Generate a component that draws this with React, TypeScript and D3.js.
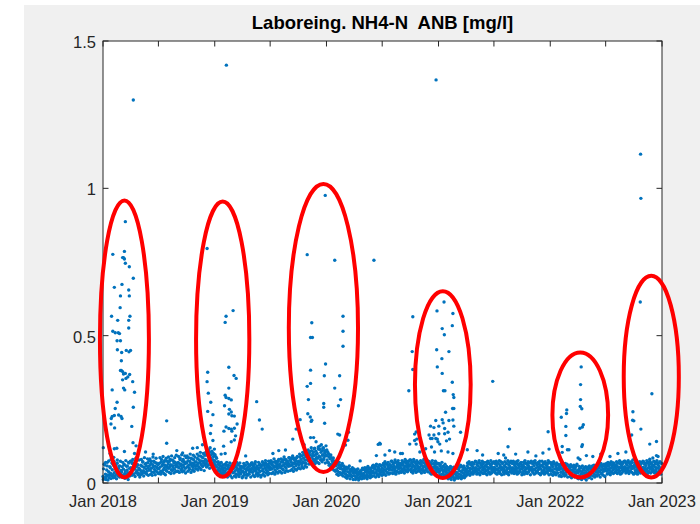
import React from "react";
import * as d3 from "d3";

// ---------- DATA ----------
const title = "Laboreing. NH4-N  ANB [mg/l]";
const yTicks = [0, 0.5, 1, 1.5];
const yTickLabels = ["0", "0.5", "1", "1.5"];
const xDomain = ["2018-01-01", "2023-01-01"];

// Baseline measurements (even days, ~every 2 days), values in µg/l (mg/l × 1000), one array per year
const base2018 = [
  22,48,15,61,30,12,44,70,27,38,18,55,33,80,25,
  45,28,60,35,19,52,41,30,67,24,49,36,58,31,43,
  38,55,26,47,63,32,41,20,57,44,35,70,29,50,37,
  52,39,66,45,30,58,47,72,36,55,42,61,33,50,46,
  44,60,38,57,71,42,53,35,64,48,58,40,69,52,45,
  59,43,66,50,37,62,55,74,46,57,41,68,53,49,63,
  48,67,54,40,72,58,63,45,70,52,60,44,76,57,51,
  64,50,73,56,62,45,78,59,53,68,47,71,60,55,66,
  57,70,52,66,80,58,63,49,74,61,55,72,65,50,68,
  69,55,76,60,51,73,64,84,58,67,53,79,62,70,57,
  72,60,83,66,55,78,70,92,63,75,58,86,68,74,61,
  80,66,95,74,62,88,77,104,70,85,68,99,79,90,72,
];
const base2019 = [
  76,60,88,54,70,45,63,52,40,58,47,35,55,43,50,
  38,52,42,60,33,47,55,36,50,29,44,58,40,48,35,
  50,37,58,42,31,53,46,62,39,48,34,56,43,51,38,
  41,55,35,49,60,38,46,30,53,44,57,37,48,42,63,
  49,36,58,43,52,65,40,47,55,34,50,44,61,39,53,
  56,42,62,48,38,59,51,67,45,54,40,63,50,57,46,
  52,66,47,60,71,53,58,44,69,55,63,49,74,57,61,
  65,52,72,58,48,70,61,79,55,66,51,75,60,68,57,
  63,77,58,70,84,62,68,54,80,66,73,59,86,65,71,
  74,62,88,70,80,65,93,72,84,68,98,77,66,90,79,
  88,75,102,84,95,72,110,90,82,105,93,118,80,97,87,
  100,84,115,92,125,88,104,79,110,95,120,86,102,93,108,
];
const base2020 = [
  92,78,105,70,88,64,82,95,60,75,68,85,58,72,62,
  58,45,66,40,52,61,36,49,55,33,47,58,38,44,51,
  42,30,48,26,38,52,24,35,44,28,40,22,46,33,37,
  25,38,20,33,44,27,18,36,30,41,23,34,26,45,29,
  32,45,24,38,50,29,41,22,36,47,31,39,26,53,34,
  40,52,33,47,58,36,44,30,55,41,49,35,60,43,38,
  50,38,60,45,55,42,65,48,36,58,52,44,62,47,55,
  55,43,64,50,58,46,70,53,40,62,56,48,66,51,59,
  52,66,47,60,71,50,58,44,68,55,63,49,74,57,61,
  58,46,68,53,62,43,72,56,50,65,48,60,55,70,52,
  54,66,45,60,70,50,57,42,67,55,62,48,73,56,60,
  50,62,43,57,66,46,54,40,64,52,58,45,69,53,48,
];
const base2021 = [
  48,36,58,42,52,30,46,55,38,44,28,50,40,35,47,
  32,45,24,38,50,20,35,42,27,40,18,46,30,37,25,
  35,22,47,30,41,55,28,38,19,44,33,50,26,40,36,
  45,58,38,52,64,42,49,35,60,47,55,40,66,50,44,
  52,40,62,47,57,44,68,51,38,60,54,45,65,49,56,
  48,60,42,55,66,46,52,37,63,50,57,43,69,51,45,
  53,41,64,48,58,44,67,50,39,61,55,46,70,52,47,
  47,59,40,54,65,45,51,36,62,49,56,42,68,50,44,
  52,40,63,47,56,43,66,50,38,60,54,45,64,48,57,
  49,61,41,55,67,46,52,37,63,50,58,44,70,51,45,
  54,42,65,48,59,44,68,51,39,62,55,46,66,50,58,
  47,60,40,55,64,45,52,36,62,49,57,42,67,51,44,
];
const base2022 = [
  52,40,62,45,56,38,66,48,35,58,50,43,63,47,54,
  46,58,36,50,61,40,47,32,55,44,52,38,64,45,41,
  40,52,30,45,57,35,43,26,50,38,48,33,58,42,37,
  34,46,24,40,52,30,38,18,45,33,43,27,55,36,30,
  45,33,55,38,50,28,47,40,58,35,44,30,52,42,37,
  48,36,58,42,52,38,62,45,33,55,47,40,60,44,50,
  52,40,63,47,57,43,66,50,38,60,54,45,68,49,56,
  50,62,43,56,68,47,54,40,65,52,59,45,71,53,48,
  55,43,66,50,60,46,70,53,41,63,57,48,69,52,58,
  50,62,42,56,67,46,53,39,65,51,59,44,70,52,47,
  54,42,64,49,59,45,68,51,38,62,55,47,66,50,57,
  48,60,41,55,65,46,52,37,63,50,58,43,69,51,45,
];
// Second daily sample set (odd days), µg/l
const base2018b = [
  12,64,18,70,22,58,10,75,26,52,15,68,
  66,18,72,24,60,14,78,28,56,20,74,30,
  20,70,26,62,16,76,30,58,12,68,24,74,
  74,26,80,30,68,22,84,34,62,28,78,20,
  28,80,32,72,24,86,36,66,30,82,26,76,
  82,30,74,26,88,36,70,28,84,38,64,32,
  34,86,30,80,38,90,32,76,28,84,40,72,
  88,36,80,32,92,42,76,34,86,38,94,40,
  40,90,36,84,44,96,38,80,42,92,34,86,
  92,40,86,46,98,36,82,44,94,40,88,48,
  48,98,44,92,52,104,46,88,56,100,42,94,
  104,54,98,60,112,50,94,62,108,56,100,66,
];
const base2019b = [
  96,58,84,40,72,30,66,28,70,25,62,30,
  22,64,26,70,20,60,30,68,24,58,18,66,
  66,24,58,20,70,28,62,22,68,30,56,18,
  22,66,28,60,18,70,26,64,30,58,20,68,
  68,26,62,22,72,30,58,24,70,28,64,20,
  26,72,30,66,24,76,34,62,28,74,32,68,
  76,32,70,36,82,30,74,38,68,34,80,40,
  38,82,34,78,44,88,36,80,42,74,40,86,
  86,42,80,46,92,40,84,48,78,44,90,50,
  52,98,48,92,56,104,50,96,58,90,54,102,
  112,64,106,70,120,62,100,74,116,66,108,72,
  70,122,66,114,78,130,72,118,80,110,68,126,
];
const base2020b = [
  112,70,100,60,94,52,86,48,78,44,70,40,
  72,30,64,26,70,34,60,28,66,24,58,32,
  20,54,16,50,24,58,14,46,22,52,12,48,
  44,12,40,18,48,10,36,16,42,14,50,20,
  16,52,20,46,14,56,24,50,18,44,22,58,
  60,24,56,20,64,28,52,22,62,30,58,26,
  28,66,32,72,26,64,36,70,30,62,34,74,
  74,32,68,36,78,30,70,38,76,34,66,40,
  36,76,40,70,34,80,42,74,38,68,44,78,
  78,38,72,34,80,42,70,36,76,40,68,44,
  40,76,34,72,42,80,36,70,44,78,38,74,
  72,34,68,30,76,38,66,32,74,36,64,40,
];
const base2021b = [
  66,26,62,22,70,30,58,24,64,20,56,28,
  14,52,18,56,12,48,20,54,10,50,16,58,
  56,16,52,20,60,14,54,22,58,18,50,24,
  28,68,32,72,26,66,34,70,30,64,36,74,
  72,30,68,34,76,28,66,36,74,32,70,38,
  32,70,28,74,36,68,30,76,34,66,38,72,
  70,34,74,30,68,36,76,32,72,28,66,38,
  30,72,36,68,32,76,28,70,38,74,34,66,
  74,32,68,36,72,30,76,34,66,38,70,28,
  34,70,30,76,36,66,32,72,38,68,28,74,
  68,36,72,30,76,34,66,38,70,32,74,28,
  32,74,36,68,30,72,38,66,34,76,28,70,
];
const base2022b = [
  70,30,66,26,72,32,64,28,68,34,62,24,
  26,64,22,68,30,60,24,66,28,62,20,58,
  58,22,62,18,56,26,60,20,54,24,64,16,
  14,56,18,52,12,58,20,50,16,54,10,48,
  52,18,58,22,50,14,56,24,60,20,54,26,
  24,62,28,58,20,66,30,60,26,64,22,56,
  66,30,70,34,64,28,72,36,68,32,62,38,
  36,72,32,68,38,76,30,70,34,66,40,74,
  74,34,70,38,76,32,68,40,72,36,78,30,
  32,70,36,76,30,68,38,72,34,66,40,74,
  72,36,66,40,76,32,70,38,74,34,68,42,
  38,74,34,70,40,76,32,68,36,72,30,66,
];
const baseYears = [2018, 2019, 2020, 2021, 2022];
const baseSeries = [base2018, base2019, base2020, base2021, base2022];
const baseSeriesB = [base2018b, base2019b, base2020b, base2021b, base2022b];

// Scattered readings just above the baseline band [date, mg/l]
const fringe: [string, number][] = [
  ["2018-05-20",0.105],["2018-06-14",0.098],["2018-08-30",0.11],["2018-09-18",0.102],["2018-11-05",0.12],
  ["2018-11-22",0.13],["2019-04-12",0.092],["2019-07-10",0.10],["2019-08-20",0.112],["2019-10-20",0.13],
  ["2019-11-28",0.14],["2020-04-20",0.075],["2020-07-10",0.095],["2020-09-05",0.10],["2020-11-01",0.105],
  ["2021-05-25",0.095],["2021-07-15",0.10],["2021-09-10",0.098],["2021-10-20",0.105],["2021-11-15",0.092],
  ["2022-05-20",0.09],["2022-06-15",0.098],["2022-08-10",0.10],["2022-09-05",0.105],
];

// Elevated readings [date, mg/l]
const spikes2018: [string, number][] = [
  ["2018-01-02",0.12],["2018-01-24",0.10],["2018-01-27",0.20],["2018-01-28",0.219],["2018-01-29",0.566],
  ["2018-01-31",0.316],["2018-01-31",0.226],["2018-02-02",0.776],["2018-02-02",0.515],["2018-02-05",0.087],
  ["2018-02-07",0.664],["2018-02-07",0.229],["2018-02-07",0.116],["2018-02-08",0.187],["2018-02-10",0.51],
  ["2018-02-10",0.253],["2018-02-15",0.118],["2018-02-16",0.483],["2018-02-16",0.274],["2018-02-17",0.452],
  ["2018-02-18",0.552],["2018-02-20",0.51],["2018-02-21",0.231],["2018-02-24",0.507],["2018-02-26",0.595],
  ["2018-02-27",0.635],["2018-02-27",0.483],["2018-02-27",0.382],["2018-03-01",0.226],["2018-03-02",0.415],
  ["2018-03-02",0.382],["2018-03-03",0.443],["2018-03-04",0.674],["2018-03-04",0.219],["2018-03-06",0.765],
  ["2018-03-06",0.378],["2018-03-06",0.35],["2018-03-09",0.765],["2018-03-09",0.37],["2018-03-09",0.322],
  ["2018-03-12",0.786],["2018-03-12",0.76],["2018-03-12",0.107],["2018-03-13",0.316],["2018-03-15",0.887],
  ["2018-03-15",0.746],["2018-03-15",0.372],["2018-03-17",0.355],["2018-03-18",0.45],["2018-03-23",0.36],
  ["2018-03-26",0.655],["2018-03-26",0.552],["2018-03-26",0.526],["2018-03-27",0.445],["2018-03-28",0.734],
  ["2018-03-28",0.635],["2018-03-29",0.368],["2018-03-30",0.566],["2018-04-01",0.45],["2018-04-05",0.192],
  ["2018-04-08",0.344],["2018-04-09",0.137],["2018-04-10",1.30],["2018-04-10",0.695],["2018-04-10",0.257],
  ["2018-04-14",0.308],["2018-04-14",0.10],["2018-04-19",0.126],["2018-07-28",0.211],["2018-07-28",0.135],
];
const spikes2019: [string, number][] = [
  ["2018-10-21",0.118],["2018-12-07",0.796],["2018-12-07",0.344],["2018-12-09",0.376],["2018-12-09",0.243],
  ["2018-12-11",0.305],["2018-12-17",0.12],["2018-12-18",0.168],["2018-12-19",0.274],["2018-12-20",0.195],
  ["2018-12-26",0.232],["2018-12-26",0.144],["2018-12-31",0.115],["2019-01-22",0.098],["2019-01-30",0.125],
  ["2019-01-31",0.176],["2019-02-02",0.262],["2019-02-04",0.545],["2019-02-04",0.298],["2019-02-04",0.10],
  ["2019-02-07",0.566],["2019-02-07",0.29],["2019-02-07",0.19],["2019-02-08",1.418],["2019-02-16",0.393],
  ["2019-02-16",0.322],["2019-02-16",0.287],["2019-02-16",0.234],["2019-02-16",0.185],["2019-02-18",0.25],
  ["2019-02-24",0.282],["2019-02-24",0.241],["2019-02-24",0.183],["2019-02-24",0.14],["2019-02-26",0.228],
  ["2019-02-26",0.176],["2019-03-02",0.585],["2019-03-05",0.365],["2019-03-06",0.227],["2019-03-06",0.186],
  ["2019-03-06",0.146],["2019-03-10",0.16],["2019-03-12",0.355],["2019-03-15",0.2],["2019-05-18",0.276],
  ["2019-05-27",0.214],["2019-06-05",0.183],["2019-07-29",0.11],["2019-09-13",0.149],["2019-09-24",0.183],
];
const spikes2020: [string, number][] = [
  ["2019-10-07",0.215],["2019-10-30",0.775],["2019-10-30",0.328],["2019-11-01",0.235],["2019-11-03",0.283],
  ["2019-11-09",0.224],["2019-11-10",0.494],["2019-11-10",0.383],["2019-11-10",0.338],["2019-11-10",0.154],
  ["2019-11-12",0.209],["2019-11-14",0.544],["2019-11-14",0.213],["2019-11-16",0.494],["2019-11-20",0.154],
  ["2019-12-19",0.095],["2019-12-23",0.27],["2019-12-23",0.257],["2019-12-25",0.364],["2019-12-26",0.203],
  ["2019-12-28",0.976],["2019-12-29",0.404],["2019-12-31",0.095],["2020-01-28",0.756],["2020-01-28",0.322],
  ["2020-02-07",0.166],["2020-02-09",0.262],["2020-02-13",0.364],["2020-02-13",0.163],["2020-02-16",0.283],
  ["2020-02-24",0.566],["2020-02-24",0.515],["2020-02-24",0.464],["2020-03-03",0.129],["2020-03-11",0.145],
  ["2020-03-13",0.172],["2020-06-04",0.756],["2020-06-12",0.093],["2020-06-18",0.131],["2020-06-23",0.135],
];
const spikes2021: [string, number][] = [
  ["2020-06-25",0.132],["2020-07-25",0.11],["2020-08-11",0.105],["2020-08-30",0.10],["2020-09-26",0.313],
  ["2020-09-29",0.132],["2020-10-07",0.446],["2020-10-09",0.564],["2020-10-09",0.385],["2020-10-15",0.144],
  ["2020-10-15",0.166],["2020-10-20",0.173],["2020-10-20",0.132],["2020-10-22",0.149],["2020-11-06",0.127],
  ["2020-11-20",0.116],["2020-12-01",0.163],["2020-12-06",0.193],["2020-12-06",0.151],["2020-12-09",0.122],
  ["2020-12-11",0.151],["2020-12-17",0.188],["2020-12-17",0.163],["2020-12-19",0.105],["2020-12-24",1.368],
  ["2020-12-23",0.212],["2020-12-23",0.151],["2020-12-26",0.452],["2020-12-27",0.584],["2020-12-28",0.394],
  ["2020-12-28",0.149],["2020-12-30",0.14],["2021-01-02",0.193],["2021-01-02",0.167],["2021-01-05",0.132],
  ["2021-01-10",0.109],["2021-01-12",0.422],["2021-01-13",0.524],["2021-01-13",0.372],["2021-01-13",0.215],
  ["2021-01-16",0.204],["2021-01-17",0.313],["2021-01-19",0.614],["2021-01-20",0.503],["2021-01-21",0.185],
  ["2021-01-21",0.167],["2021-01-22",0.313],["2021-01-24",0.24],["2021-01-27",0.143],["2021-02-01",0.172],
  ["2021-02-01",0.105],["2021-02-04",0.446],["2021-02-04",0.212],["2021-02-06",0.149],["2021-02-15",0.534],
  ["2021-02-15",0.342],["2021-02-16",0.253],["2021-02-17",0.575],["2021-02-17",0.214],["2021-02-17",0.10],
  ["2021-02-18",0.30],["2021-02-20",0.29],["2021-02-20",0.253],["2021-02-20",0.193],["2021-03-14",0.172],
  ["2021-04-05",0.113],["2021-05-07",0.11],["2021-06-27",0.345],["2021-08-02",0.095],["2021-08-08",0.085],
  ["2021-08-16",0.123],["2021-08-21",0.183],
];
const spikes2022: [string, number][] = [
  ["2021-12-08",0.102],["2021-12-25",0.174],["2021-12-28",0.115],["2022-02-06",0.223],["2022-02-09",0.124],
  ["2022-02-09",0.104],["2022-02-21",0.192],["2022-02-21",0.161],["2022-02-23",0.236],["2022-02-24",0.248],
  ["2022-02-26",0.113],["2022-03-03",0.113],["2022-04-02",0.085],["2022-04-08",0.186],["2022-04-08",0.08],
  ["2022-04-09",0.26],["2022-04-10",0.334],["2022-04-10",0.283],["2022-04-12",0.394],["2022-04-14",0.252],
  ["2022-04-14",0.124],["2022-04-16",0.19],["2022-04-16",0.13],["2022-04-19",0.198],["2022-04-29",0.093],
  ["2022-07-15",0.09],
];
const spikes2023: [string, number][] = [
  ["2022-09-24",0.163],["2022-09-27",0.213],["2022-09-28",0.242],["2022-10-01",0.211],["2022-10-22",0.614],
  ["2022-10-23",1.116],["2022-10-24",0.966],["2022-10-24",0.183],["2022-11-22",0.132],["2022-11-22",0.081],
  ["2022-11-29",0.303],["2022-12-02",0.085],["2022-12-14",0.141],["2022-12-14",0.093],["2022-12-19",0.09],
];

// Red highlight ellipses: center date, center value, half-width (days), half-height (mg/l)
const ellipseDates = ["2018-03-12", "2019-01-27", "2019-12-22", "2021-01-15", "2022-04-09", "2022-11-27"];
const ellipseValues = [0.489, 0.488, 0.526, 0.334, 0.231, 0.361];
const ellipseHalfDays = [80, 87, 113, 91, 91, 90];
const ellipseHalfValues = [0.47, 0.467, 0.489, 0.317, 0.212, 0.342];

// ---------- CHART ----------
const W = 700, H = 524;
const M = { left: 103, right: 662, top: 41, bottom: 483 };
const parse = d3.utcParse("%Y-%m-%d");
const FONT = "'Liberation Sans', Arial, Helvetica, sans-serif";
const AX = "#262626";
const BLUE = "#0072BD";
const DAY = 86400000;

export default function App() {
  const x = d3.scaleUtc().domain(xDomain.map((s) => parse(s) as Date)).range([M.left, M.right]);
  const y = d3.scaleLinear().domain([0, 1.5]).range([M.bottom, M.top]);

  const points: { d: Date; v: number }[] = [];
  const addSeries = (series: number[][], offsetDays: number) =>
    series.forEach((arr, yi) => {
      const start = Date.UTC(baseYears[yi], 0, 1) + offsetDays * DAY;
      const step = (365 / arr.length) * DAY;
      arr.forEach((v, i) => points.push({ d: new Date(start + i * step), v: v / 1000 }));
    });
  addSeries(baseSeries, 0);
  addSeries(baseSeriesB, 1);
  [fringe, spikes2018, spikes2019, spikes2020, spikes2021, spikes2022, spikes2023].forEach((arr) =>
    arr.forEach(([s, v]) => points.push({ d: parse(s) as Date, v }))
  );

  const xTicks = x.ticks(d3.utcMonth.every(6) as any);
  const fmt = d3.utcFormat("Jan %Y");
  const tickLen = 5.5;

  return (
    <svg width={W} height={H} style={{ position: "absolute", left: 0, top: 0, display: "block" }}>
      <rect x={0} y={0} width={W} height={H} fill="#ffffff" />
      <rect x={24} y={5} width={W - 24} height={H - 5} fill="#f0f0f0" />
      <rect x={M.left} y={M.top} width={M.right - M.left} height={M.bottom - M.top} fill="#ffffff" />
      <text
        x={(M.left + M.right) / 2}
        y={29}
        textAnchor="middle"
        fontFamily={FONT}
        fontWeight="bold"
        fontSize={18.5}
        fill="#000"
        style={{ whiteSpace: "pre" }}
        xmlSpace="preserve"
      >
        {title}
      </text>
      <g>
        {points.map((p, i) => (
          <circle key={i} cx={x(p.d)} cy={y(p.v)} r={1.7} fill={BLUE} />
        ))}
      </g>
      <g stroke={AX} strokeWidth={1} fill="none">
        <rect x={M.left} y={M.top} width={M.right - M.left} height={M.bottom - M.top} />
        {xTicks.map((t, i) => (
          <g key={i}>
            <line x1={x(t)} x2={x(t)} y1={M.bottom} y2={M.bottom - tickLen} />
            <line x1={x(t)} x2={x(t)} y1={M.top} y2={M.top + tickLen} />
          </g>
        ))}
        {yTicks.map((t, i) => (
          <g key={i}>
            <line x1={M.left} x2={M.left + tickLen} y1={y(t)} y2={y(t)} />
            <line x1={M.right} x2={M.right - tickLen} y1={y(t)} y2={y(t)} />
          </g>
        ))}
      </g>
      <g fontFamily={FONT} fontSize={16.5} fill={AX}>
        {xTicks
          .filter((t) => t.getUTCMonth() === 0)
          .map((t, i) => (
            <text key={i} x={x(t)} y={506.5} textAnchor="middle">
              {fmt(t)}
            </text>
          ))}
        {yTicks.map((t, i) => (
          <text key={i} x={96} y={y(t) + 7} textAnchor="end">
            {yTickLabels[i]}
          </text>
        ))}
      </g>
      <g fill="none" stroke="#ff0000" strokeWidth={4}>
        {ellipseDates.map((s, i) => {
          const c = parse(s) as Date;
          const cx = x(c);
          const rx = x(d3.utcDay.offset(c, ellipseHalfDays[i])) - cx;
          const cy = y(ellipseValues[i]);
          const ry = cy - y(ellipseValues[i] + ellipseHalfValues[i]);
          return <ellipse key={i} cx={cx} cy={cy} rx={rx} ry={ry} />;
        })}
      </g>
    </svg>
  );
}
